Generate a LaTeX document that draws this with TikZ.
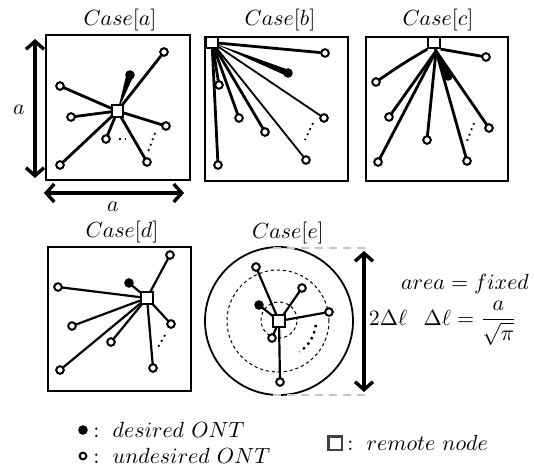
\documentclass[tikz,border=0pt]{standalone}
\usetikzlibrary{arrows.meta,calc}
\pgfdeclarelayer{bg}
\pgfsetlayers{bg,main}
\begin{document}
\begin{tikzpicture}[x=0.5pt,y=-0.5pt,
  frame/.style={draw,line width=1.4pt},
  rnode/.style={draw,fill=white,rectangle,minimum size=5.6pt,inner sep=0pt,line width=1pt},
  ont/.style={draw,fill=white,circle,minimum size=3.8pt,inner sep=0pt,line width=1pt},
  dont/.style={fill=black,circle,minimum size=4.8pt,inner sep=0pt},
  fib/.style={line width=1.4pt},
  thinfib/.style={line width=0.9pt},
  gap/.style={dotted,line width=0.9pt},
  dimarrow/.style={line width=1.7pt,{Straight Barb[length=4pt,width=9pt]}-{Straight Barb[length=4pt,width=9pt]}},
  lbl/.style={font=\fontsize{10.5}{12}\selectfont,inner sep=1pt},
  key/.style={font=\fontsize{11}{13}\selectfont,anchor=west,inner sep=0pt}]
\useasboundingbox (0,0) rectangle (534,466);

% ---------- Case [a]: remote node in the centre ----------
\node[lbl] (ta) at (120,20) {$Case[a]$};
\node[frame,minimum width=72pt,minimum height=72.5pt,inner sep=0pt] (fa) at (118,107.5) {};
\node[rnode] (A) at (117.5,111) {};
\node[ont]  (a1) at (164,52) {};
\node[dont] (a2) at (130,75) {};
\node[ont]  (a3) at (60,86) {};
\node[ont]  (a4) at (71,117) {};
\node[ont]  (a5) at (166,126) {};
\node[ont]  (a6) at (106,139) {};
\node[ont]  (a7) at (147,162) {};
\node[ont]  (a8) at (60,165) {};
\begin{pgfonlayer}{bg}
  \foreach \o in {a1,a3,a4,a5,a6,a7,a8} \draw[fib] (A.center) -- (\o.center);
  \fill ($(a2)!1.8pt!90:(A)$) -- (A.center) -- ($(a2)!1.8pt!-90:(A)$) -- cycle;
\end{pgfonlayer}
\coordinate (ga1) at (119,139); \coordinate (ga2) at (126,139);
\draw[gap] (ga1) -- (ga2);
\coordinate (gb1) at (155,133); \coordinate (gb2) at (148,152);
\draw[gap] (gb1) -- (gb2);
% side dimensions
\coordinate (va1) at (35,39); \coordinate (va2) at (35,178);
\draw[dimarrow] (va1) -- (va2);
\node[lbl] (la) at (19,110) {$a$};
\coordinate (ha1) at (44,193); \coordinate (ha2) at (184,193);
\draw[dimarrow] (ha1) -- (ha2);
\node[lbl] (lb) at (113,207) {$a$};

% ---------- Case [b]: remote node in the corner ----------
\node[lbl] (tb) at (280,20) {$Case[b]$};
\node[frame,minimum width=71.5pt,minimum height=72pt,inner sep=0pt] (fb) at (276.5,109) {};
\node[rnode] (B) at (212,42.5) {};
\node[ont]  (b1) at (325,53) {};
\node[dont] (b2) at (288,73) {};
\node[ont]  (b3) at (219,85) {};
\node[ont]  (b4) at (324,118) {};
\node[ont]  (b5) at (239,118) {};
\node[ont]  (b6) at (265,132) {};
\node[ont]  (b7) at (306,160) {};
\node[ont]  (b8) at (218,165) {};
\begin{pgfonlayer}{bg}
  \foreach \o in {b1,b3,b5,b6,b8} \draw[fib] (B.center) -- (\o.center);
  \foreach \o in {b4,b7} \draw[thinfib] (B.center) -- (\o.center);
  \fill ($(b2)!1.6pt!90:(B)$) -- (B.center) -- ($(b2)!1.6pt!-90:(B)$) -- cycle;
\end{pgfonlayer}
\coordinate (gc1) at (313,123); \coordinate (gc2) at (305,140);
\draw[gap] (gc1) -- (gc2);

% ---------- Case [c]: remote node at the top edge ----------
\node[lbl] (tc) at (438,20) {$Case[c]$};
\node[frame,minimum width=71pt,minimum height=72pt,inner sep=0pt] (fc) at (437,109) {};
\node[rnode] (C) at (434,42.5) {};
\coordinate (cj) at (436,51);
\node[ont]  (c1) at (486,57) {};
\node[ont]  (c2) at (376,82) {};
\node[ont]  (c3) at (389,117) {};
\node[ont]  (c4) at (489,128) {};
\node[ont]  (c5) at (427,140) {};
\node[ont]  (c6) at (378,162) {};
\node[ont]  (c7) at (467,161) {};
\node[dont] (c8) at (448,76) {};
\begin{pgfonlayer}{bg}
  \draw[fib] (C.center) -- (cj);
  \draw[fib] (C.south east) to[out=-10,in=170] (c1.center);
  \draw[fib] (C.south west) to[out=-150,in=35] (c2.center);
  \foreach \o in {c3,c4,c5,c6,c7} \draw[fib] (cj) -- (\o.center);
  \fill ($(c8)!2.2pt!90:(cj)$) -- (cj) -- ($(c8)!2.2pt!-90:(cj)$) -- cycle;
\end{pgfonlayer}
\coordinate (gd1) at (474,123); \coordinate (gd2) at (467,141);
\draw[gap] (gd1) -- (gd2);

% ---------- Case [d]: remote node off centre ----------
\node[lbl] (td) at (122,232) {$Case[d]$};
\node[frame,minimum width=71.5pt,minimum height=72pt,inner sep=0pt] (fd) at (119.5,319) {};
\node[rnode,minimum size=6.4pt] (D) at (147,298) {};
\node[ont]  (d1) at (170,255) {};
\node[dont] (d2) at (129,283) {};
\node[ont]  (d3) at (58,287) {};
\node[ont]  (d4) at (72,326) {};
\node[ont]  (d5) at (171,324) {};
\node[ont]  (d6) at (111,342) {};
\node[ont]  (d7) at (60,370) {};
\node[ont]  (d8) at (153,368) {};
\begin{pgfonlayer}{bg}
  \foreach \o in {d1,d2,d3,d4,d5,d6,d7,d8} \draw[line width=1.1pt] (D.center) -- (\o.center);
\end{pgfonlayer}
\coordinate (ge1) at (165,335); \coordinate (ge2) at (157,349);
\draw[gap] (ge1) -- (ge2);

% ---------- Case [e]: circular area ----------
\node[lbl] (te) at (288,233) {$Case[e]$};
\node[circle,draw,line width=0.9pt,minimum size=74pt,inner sep=0pt] (ring) at (279,321) {};
\node[circle,draw,line width=0.5pt,dash pattern=on 1.6pt off 1.4pt,minimum size=51pt,inner sep=0pt] (mid) at (278,321) {};
\node[circle,draw,line width=0.5pt,dash pattern=on 1.6pt off 1.4pt,minimum size=18pt,inner sep=0pt] (inner) at (279,320) {};
\node[rnode] (E) at (279,321) {};
\node[ont]  (e1) at (256,267) {};
\node[ont]  (e2) at (302,288) {};
\node[dont] (e3) at (259,305) {};
\node[ont]  (e4) at (329,312) {};
\node[ont]  (e5) at (272,338) {};
\node[ont]  (e6) at (280,382) {};
\begin{pgfonlayer}{bg}
  \foreach \o in {e1,e2,e3,e4,e5,e6} \draw[line width=1.1pt] (E.center) -- (\o.center);
\end{pgfonlayer}
\draw[dotted,line width=1.2pt] ([shift={(-6:18.5pt)}]ring.center) arc[start angle=-6,end angle=-56,radius=18.5pt];
% diameter marker
\coordinate (dt1) at (273,248); \coordinate (dt2) at (366,248);
\coordinate (db1) at (273,395); \coordinate (db2) at (366,395);
\draw[gray!45,line width=1.1pt,dash pattern=on 4pt off 3pt] (dt1) -- (dt2);
\draw[gray!45,line width=1.1pt,dash pattern=on 4pt off 3pt] (db1) -- (db2);
\coordinate (ve1) at (364,251); \coordinate (ve2) at (364,392);
\draw[dimarrow] (ve1) -- (ve2);
\node[lbl,anchor=base,inner sep=0pt] (le) at (388,325) {$2\Delta\ell$};
\node[lbl,anchor=base,inner sep=0pt] (area) at (465,289) {$area = fixed$};
\node[lbl,anchor=base,inner sep=0pt] (dl) at (470,325) {$\Delta\ell = \displaystyle\frac{a}{\sqrt{\pi}}$};

% ---------- legend ----------
\node[dont] (k1) at (83,430) {};
\node[key] (k1t) at (93,430) {$:\ desired\ ONT$};
\node[ont,minimum size=3.4pt] (k2) at (83,456) {};
\node[key] (k2t) at (93,456) {$:\ undesired\ ONT$};
\node[rnode,minimum size=6.6pt,draw=black!75,line width=1.1pt] (k3) at (335,443) {};
\node[key] (k3t) at (347,443) {$:\ remote\ node$};
\end{tikzpicture}
\end{document}
